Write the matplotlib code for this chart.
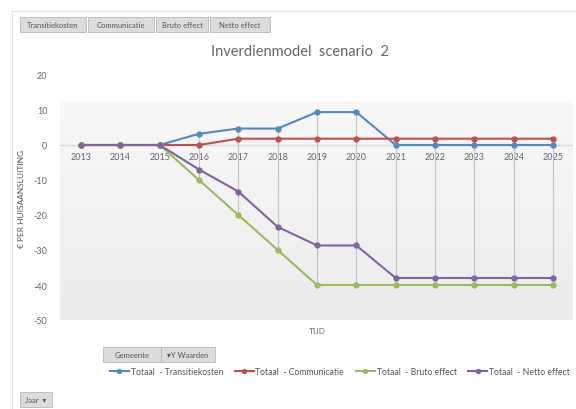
import numpy as np
import matplotlib
matplotlib.use("Agg")
import matplotlib.pyplot as plt
from matplotlib.patches import Rectangle
from matplotlib.lines import Line2D

plt.rcParams['font.family'] = ['Lato', 'DejaVu Sans']

years = [2013, 2014, 2015, 2016, 2017, 2018, 2019, 2020, 2021, 2022, 2023, 2024, 2025]
transitie = [0, 0, 0, 3.2, 4.7, 4.7, 9.4, 9.4, 0, 0, 0, 0, 0]
communicatie = [0, 0, 0, 0, 1.8, 1.8, 1.8, 1.8, 1.8, 1.8, 1.8, 1.8, 1.8]
bruto = [0, 0, 0, -10, -20, -30, -40, -40, -40, -40, -40, -40, -40]
netto = [0, 0, 0, -7, -13.3, -23.4, -28.7, -28.7, -38, -38, -38, -38, -38]

series_names = ['Totaal  - Transitiekosten', 'Totaal  - Communicatie',
                'Totaal  - Bruto effect', 'Totaal  - Netto effect']
colors = ['#4f8ac9', '#c0504d', '#9bbb59', '#8064a2']
yticks = [20, 10, 0, -10, -20, -30, -40, -50]
buttons_top = ['Transitiekosten', 'Communicatie', 'Bruto effect', 'Netto effect']

W, H = 576, 410
fig = plt.figure(figsize=(W / 100, H / 100), dpi=100)
fig.patch.set_facecolor('white')

def fx(px):
    return px / W

def fy(py):
    return 1 - py / H

# outer chart border
fig.add_artist(Line2D([fx(12), fx(12)], [fy(12), fy(410)], color='#e3e3e3', lw=0.8))
fig.add_artist(Line2D([fx(12), fx(576)], [fy(12), fy(12)], color='#e3e3e3', lw=0.8))

ax = fig.add_axes([fx(60), fy(321), fx(573) - fx(60), fy(76) - fy(321)])
x0 = 2013 - 21 / 39.33
x1 = 2025 + 20 / 39.33
ax.set_xlim(x0, x1)
ax.set_ylim(-50, 20)
ax.patch.set_alpha(0)

# gradient background of plot area
grad = np.linspace(0, 1, 100).reshape(-1, 1)
ax.imshow(grad, extent=[x0, x1, -50, 12.5], aspect='auto', origin='upper',
          cmap=matplotlib.colors.LinearSegmentedColormap.from_list('g', ['#f8f8f8', '#ececec']),
          zorder=0)

ax.axhline(0, color='#d9d9d9', lw=1, zorder=1)

# high-low lines
data = np.array([transitie, communicatie, bruto, netto])
ax.vlines(years, data.min(axis=0), data.max(axis=0), color='#c4c4c4', lw=0.8, zorder=2)

for vals, c, name in zip([transitie, communicatie, bruto, netto], colors, series_names):
    ax.plot(years, vals, color=c, lw=1.5, marker='o', ms=3.5, label=name, zorder=3)

for s in ax.spines.values():
    s.set_visible(False)
ax.set_yticks(yticks)
ax.set_yticklabels([str(v) for v in yticks])
ax.set_xticks(years)
ax.set_xticklabels([str(y) for y in years])
ax.tick_params(axis='both', length=0, labelsize=6.5, colors='#666666')
ax.tick_params(axis='y', pad=9)
ax.spines['bottom'].set_position(('data', 0))
ax.tick_params(axis='x', pad=5)

ax.set_ylabel('€ PER HUISAANSLUITING', fontsize=6, color='#555555', labelpad=6)
fig.text(fx(317), fy(331), 'TIJD', fontsize=6, color='#666666', ha='center', va='center')
fig.text(fx(300), fy(52), 'Inverdienmodel  scenario  2', fontsize=10.5, color='#666666',
         ha='center', va='center')

# legend
ax.legend(loc='center left', bbox_to_anchor=(fx(110), fy(373)), bbox_transform=fig.transFigure,
          ncol=4, frameon=False, fontsize=6.2, labelcolor='#555555', handlelength=2.2,
          columnspacing=1.35, handletextpad=0.2, borderaxespad=0, borderpad=0,
          markerscale=0.8)

def button(x, y, w, h, label, fs=5.5):
    fig.add_artist(Rectangle((fx(x), fy(y + h)), fx(w), h / H, facecolor='#dcdcdc',
                             edgecolor='#b8b8b8', lw=0.6))
    fig.text(fx(x + w / 2), fy(y + h / 2), label, fontsize=fs, color='#555555',
             ha='center', va='center')

# top field buttons
bx = [20, 88, 156, 210]
bw = [66, 66, 52, 60]
for x, w, lab in zip(bx, bw, buttons_top):
    button(x, 18, w, 15, lab)

button(103, 348, 58, 15, 'Gemeente')
button(161, 348, 54, 15, '▾Y Waarden')
button(20, 393, 32, 15, 'Jaar  ▾')

fig.savefig('out.png', dpi=100)
